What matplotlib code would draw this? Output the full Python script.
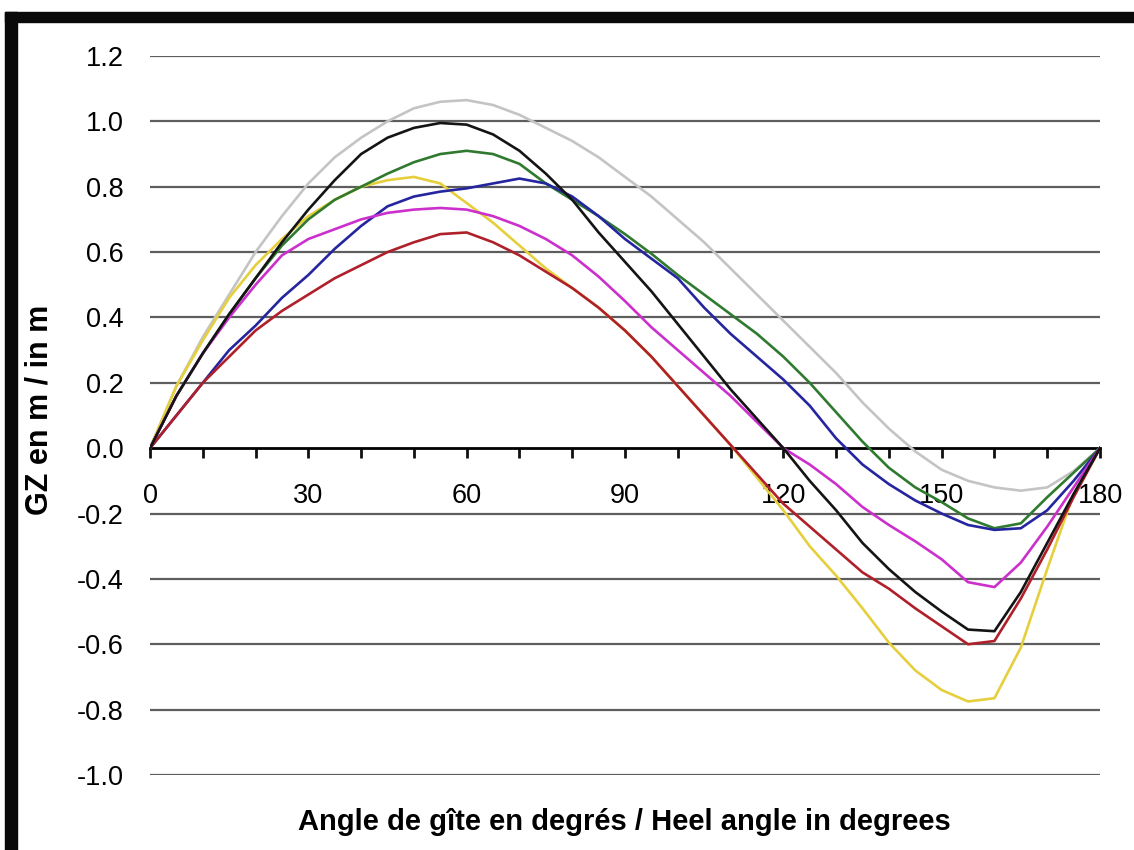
import numpy as np
import matplotlib.pyplot as plt
from matplotlib.patches import Rectangle

plt.rcParams['font.family'] = ['Liberation Sans', 'DejaVu Sans']

angles = list(range(0, 181, 5))

gz_grey = [0, 0.19, 0.34, 0.47, 0.60, 0.71, 0.81, 0.89, 0.95, 1.00, 1.04, 1.06, 1.065,
           1.05, 1.02, 0.98, 0.94, 0.89, 0.83, 0.77, 0.70, 0.63, 0.55, 0.47, 0.39, 0.31,
           0.23, 0.14, 0.06, -0.01, -0.066, -0.10, -0.12, -0.13, -0.12, -0.07, 0]
gz_black = [0, 0.16, 0.29, 0.41, 0.52, 0.63, 0.73, 0.82, 0.90, 0.95, 0.98, 0.995, 0.99,
            0.96, 0.91, 0.84, 0.76, 0.66, 0.57, 0.48, 0.38, 0.28, 0.18, 0.09, 0.0, -0.10,
            -0.19, -0.29, -0.37, -0.44, -0.50, -0.555, -0.56, -0.44, -0.29, -0.14, 0]
gz_green = [0, 0.16, 0.29, 0.41, 0.52, 0.62, 0.70, 0.76, 0.80, 0.84, 0.875, 0.90, 0.91,
            0.90, 0.87, 0.81, 0.76, 0.71, 0.655, 0.595, 0.53, 0.47, 0.41, 0.35, 0.28, 0.20,
            0.11, 0.02, -0.06, -0.12, -0.165, -0.215, -0.245, -0.23, -0.15, -0.075, 0]
gz_yellow = [0, 0.19, 0.33, 0.46, 0.56, 0.64, 0.71, 0.76, 0.80, 0.82, 0.83, 0.81, 0.75,
             0.69, 0.62, 0.55, 0.49, 0.43, 0.36, 0.28, 0.19, 0.10, 0.01, -0.09, -0.19, -0.30,
             -0.39, -0.49, -0.595, -0.68, -0.74, -0.775, -0.765, -0.61, -0.37, -0.14, 0]
gz_blue = [0, 0.10, 0.20, 0.30, 0.375, 0.46, 0.53, 0.61, 0.68, 0.74, 0.77, 0.785, 0.795,
           0.81, 0.825, 0.81, 0.77, 0.71, 0.64, 0.58, 0.52, 0.43, 0.35, 0.28, 0.21, 0.13,
           0.03, -0.05, -0.11, -0.16, -0.20, -0.235, -0.25, -0.245, -0.19, -0.10, 0]
gz_magenta = [0, 0.16, 0.29, 0.40, 0.50, 0.59, 0.64, 0.67, 0.70, 0.72, 0.73, 0.735, 0.73,
              0.71, 0.68, 0.64, 0.59, 0.525, 0.45, 0.37, 0.30, 0.23, 0.16, 0.08, 0.0, -0.05,
              -0.11, -0.18, -0.235, -0.285, -0.34, -0.41, -0.425, -0.35, -0.24, -0.12, 0]
gz_red = [0, 0.10, 0.20, 0.28, 0.36, 0.42, 0.47, 0.52, 0.56, 0.60, 0.63, 0.655, 0.66,
          0.63, 0.59, 0.54, 0.49, 0.43, 0.36, 0.28, 0.19, 0.10, 0.01, -0.08, -0.17, -0.24,
          -0.31, -0.38, -0.43, -0.49, -0.545, -0.60, -0.59, -0.46, -0.31, -0.15, 0]

series = [
    (gz_grey, '#c4c4c4'),
    (gz_yellow, '#e6cf3c'),
    (gz_green, '#2f7a2f'),
    (gz_blue, '#2525a0'),
    (gz_magenta, '#cc30cc'),
    (gz_red, '#b0202a'),
    (gz_black, '#141414'),
]

y_ticks = [1.2, 1.0, 0.8, 0.6, 0.4, 0.2, 0.0, -0.2, -0.4, -0.6, -0.8, -1.0]
x_major = [0, 30, 60, 90, 120, 150, 180]

fig = plt.figure(figsize=(11.34, 8.5), dpi=100)
ax = fig.add_axes([150 / 1134, 1 - 775 / 850, 950 / 1134, 719 / 850])

for yv in y_ticks:
    if yv != 0:
        ax.axhline(yv, color='#5e5e5e', lw=1.6, zorder=1)

for vals, col in series:
    ax.plot(angles, vals, color=col, lw=1.9, zorder=3, solid_joinstyle='round')

ax.set_xlim(0, 180)
ax.set_ylim(-1.0, 1.2)

for s in ['top', 'right', 'left']:
    ax.spines[s].set_visible(False)
ax.spines['bottom'].set_position(('data', 0))
ax.spines['bottom'].set_linewidth(2)
ax.spines['bottom'].set_zorder(2)

ax.set_xticks(x_major)
ax.set_xticks(list(range(0, 181, 10)), minor=True)
ax.tick_params(axis='x', which='both', direction='out', length=7, width=2, color='#111111')
ax.tick_params(axis='x', which='major', labelsize=19.5, pad=18)

ax.set_yticks(y_ticks)
ax.set_yticklabels([f'{v:.1f}' for v in y_ticks])
ax.tick_params(axis='y', length=0, labelsize=19.5, pad=19)

fig.text(0.551, 1 - 822 / 850, 'Angle de gîte en degrés / Heel angle in degrees',
         ha='center', va='center', fontsize=21, fontweight='bold')
fig.text(40 / 1134, 1 - 410 / 850, 'GZ en m / in m', rotation=90,
         ha='center', va='center', fontsize=22, fontweight='bold')

# black frame on the top and left edges
fig.patches.append(Rectangle((5 / 1134, 1 - 22 / 850), 1, 10 / 850,
                             transform=fig.transFigure, color='#0a0a0a', zorder=0))
fig.patches.append(Rectangle((5 / 1134, 0), 12 / 1134, 1 - 12 / 850,
                             transform=fig.transFigure, color='#0a0a0a', zorder=0))

fig.savefig('out.png', dpi=100)
